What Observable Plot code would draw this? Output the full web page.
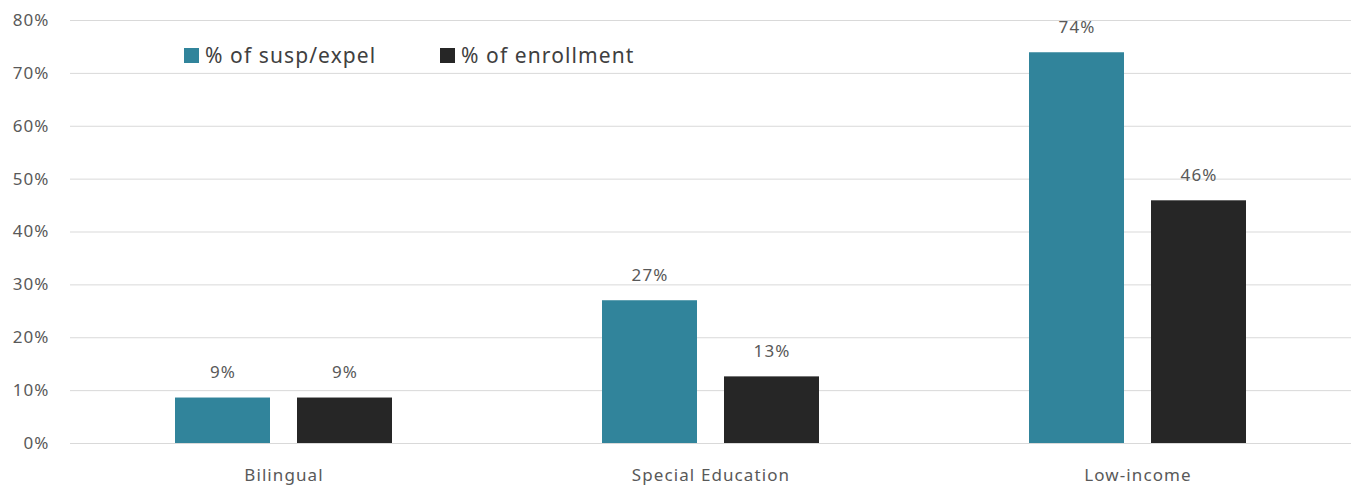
<!DOCTYPE html>
<html>
<head>
<meta charset="utf-8">
<script src="https://cdn.jsdelivr.net/npm/d3@7"></script>
<script src="https://cdn.jsdelivr.net/npm/@observablehq/plot@0.6"></script>
<style>
  html, body { margin: 0; padding: 0; background: #fff; }
  #wrap { position: relative; width: 1356px; height: 485px; font-family: "Noto Sans", "Open Sans", sans-serif; }
  #legend { position: absolute; left: 184px; top: 41px; height: 28px; font-size: 21px; letter-spacing: 1.1px; color: #404040; }
  .item { position: absolute; top: 0; height: 28px; display: flex; align-items: center; white-space: nowrap; }
  .sw { width: 15px; height: 15px; margin-right: 6px; flex: none; }
</style>
</head>
<body>
<div id="wrap"><div id="legend"></div></div>
<script>
const categories = ["Bilingual", "Special Education", "Low-income"];
const series = ["% of susp/expel", "% of enrollment"];
const suspValues = [0.086, 0.27, 0.739];
const enrollValues = [0.086, 0.126, 0.459];
const yTicks = [0, 0.1, 0.2, 0.3, 0.4, 0.5, 0.6, 0.7, 0.8];
const colors = ["#31849b", "#262626"];

const rows = [];
categories.forEach((c, i) => {
  rows.push({category: c, series: series[0], value: suspValues[i]});
  rows.push({category: c, series: series[1], value: enrollValues[i]});
});

const fmt = d3.format(".0%");

const chart = Plot.plot({
  width: 1356,
  height: 485,
  marginLeft: 70,
  marginRight: 5,
  marginTop: 20,
  marginBottom: 42,
  style: {fontFamily: "'Noto Sans', 'Open Sans', sans-serif", fontSize: "17px", letterSpacing: "1.1px", color: "#595959", background: "#fff"},
  fx: {domain: categories, padding: 0, label: null},
  x: {domain: series, paddingInner: 0.221, paddingOuter: 0.86, axis: null},
  y: {domain: [0, 0.8], label: null},
  color: {domain: series, range: colors},
  marks: [
    Plot.gridY(yTicks, {stroke: "#d9d9d9", strokeOpacity: 1}),
    Plot.axisY(yTicks, {tickSize: 0, tickPadding: 21, tickFormat: fmt, label: null, fill: "#595959", fontSize: 17}),
    Plot.axisFx({anchor: "bottom", tickSize: 0, tickPadding: 25, label: null, fill: "#595959", fontSize: 17}),
    Plot.barY(rows, {fx: "category", x: "series", y: "value", fill: "series"}),
    Plot.text(rows, {fx: "category", x: "series", y: "value", text: d => fmt(d.value), dy: -25, fill: "#595959", fontSize: 17})
  ]
});

document.getElementById("wrap").prepend(chart);
const legend = document.getElementById("legend");
const offsets = [0, 256];
series.forEach((s, i) => {
  const item = document.createElement("div");
  item.className = "item";
  item.style.left = offsets[i] + "px";
  const sw = document.createElement("div");
  sw.className = "sw";
  sw.style.background = colors[i];
  const t = document.createElement("span");
  t.textContent = s;
  item.append(sw, t);
  legend.append(item);
});
</script>
</body>
</html>
